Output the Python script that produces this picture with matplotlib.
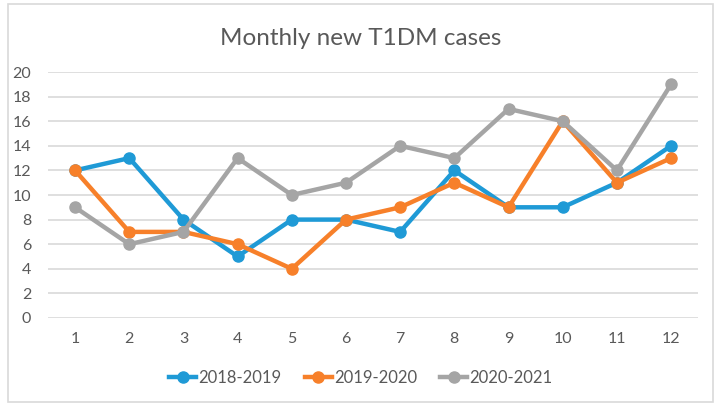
import matplotlib
matplotlib.use("Agg")
import matplotlib.pyplot as plt
from matplotlib.patches import Rectangle

# Data
months = [1, 2, 3, 4, 5, 6, 7, 8, 9, 10, 11, 12]
cases_2018_2019 = [12, 13, 8, 5, 8, 8, 7, 12, 9, 9, 11, 14]
cases_2019_2020 = [12, 7, 7, 6, 4, 8, 9, 11, 9, 16, 11, 13]
cases_2020_2021 = [9, 6, 7, 13, 10, 11, 14, 13, 17, 16, 12, 19]
y_ticks = [0, 2, 4, 6, 8, 10, 12, 14, 16, 18, 20]

plt.rcParams['font.family'] = ['Lato', 'DejaVu Sans']
text_col = '#595959'

fig = plt.figure(figsize=(7.22, 4.08), dpi=100)
ax = fig.add_axes([0.0665, 0.2206, 0.9005, 0.6029])

# chart border
fig.patches.append(Rectangle((0.011, 0.015), 0.976, 0.975, transform=fig.transFigure,
                             fill=False, edgecolor='#d9d9d9', linewidth=1.2))

series = [
    ('2018-2019', cases_2018_2019, '#1f9ad6'),
    ('2019-2020', cases_2019_2020, '#f7802a'),
    ('2020-2021', cases_2020_2021, '#a5a5a5'),
]
for name, vals, col in series:
    ax.plot(months, vals, color=col, linewidth=3.2, marker='o', markersize=8, label=name)

ax.set_xlim(0.5, 12.5)
ax.set_ylim(0, 20)
ax.set_xticks(months)
ax.set_yticks(y_ticks)
ax.grid(axis='y', color='#d9d9d9', linewidth=1.2)
ax.set_axisbelow(True)
for s in ax.spines.values():
    s.set_visible(False)
ax.tick_params(length=0, labelsize=11.5, colors=text_col, pad=10)
ax.tick_params(axis='y', pad=12)

fig.text(0.5, 0.905, 'Monthly new T1DM cases', ha='center', va='center',
         fontsize=17.5, color=text_col)

fig.legend(loc='center', bbox_to_anchor=(0.5, 0.073), ncol=3, frameon=False,
           fontsize=12, labelcolor=text_col, handlelength=1.6, handletextpad=0.15,
           columnspacing=1.4)

fig.savefig('out.png', dpi=100)
